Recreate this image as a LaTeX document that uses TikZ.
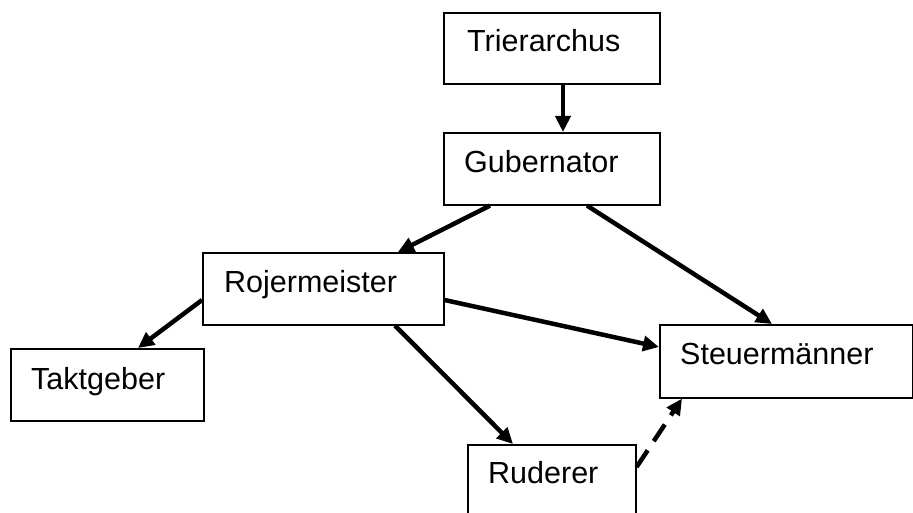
\documentclass[tikz,border=0pt]{standalone}
\usepackage{fontspec}
\setmainfont{Liberation Sans}
\usetikzlibrary{arrows.meta,calc}
\begin{document}
\begin{tikzpicture}[x=1pt,y=-1pt,
  box/.style={draw=black, line width=1.6pt, fill=white, rectangle, inner sep=0pt, anchor=north west},
  lbl/.style={anchor=base west, inner sep=0pt, font=\fontsize{30.5}{36}\selectfont},
  conn/.style={line width=4.5pt, -{Triangle[length=16pt,width=15pt]}},
  weak/.style={conn, dash pattern=on 20pt off 11pt}]
  \useasboundingbox (0,0) rectangle (913,513);

  % boxes
  \node[box, minimum width=216pt, minimum height=71pt] (tri)  at (443,12)  {};
  \node[box, minimum width=216pt, minimum height=72pt] (gub)  at (443,132) {};
  \node[box, minimum width=241pt, minimum height=72pt] (roj)  at (202,252) {};
  \node[box, minimum width=193pt, minimum height=72pt] (takt) at (10,348)  {};
  \node[box, minimum width=253pt, minimum height=73pt] (steu) at (659,324) {};
  \node[box, minimum width=168pt, minimum height=75pt] (rud)  at (467,444) {};

  % labels
  \node[lbl] (tri-t)  at ($(tri.north west)+(24,40)$)  {Trierarchus};
  \node[lbl] (gub-t)  at ($(gub.north west)+(21,41)$)  {Gubernator};
  \node[lbl] (roj-t)  at ($(roj.north west)+(22,40)$)  {Rojermeister};
  \node[lbl] (takt-t) at ($(takt.north west)+(21,41)$) {Taktgeber};
  \node[lbl] (steu-t) at ($(steu.north west)+(21,40)$) {Steuermänner};
  \node[lbl] (rud-t)  at ($(rud.north west)+(21,39)$)  {Ruderer};

  % connectors
  \draw[conn] ($(tri.south west)+(120,0)$) -- ($(gub.north west)+(120,0)$);
  \draw[conn] ($(gub.south west)+(47,0)$)  -- ($(roj.north west)+(196,0)$);
  \draw[conn] ($(gub.south west)+(144,0)$) -- ($(steu.north west)+(113,0)$);
  \draw[conn] ($(roj.north east)+(0,48)$)  -- ($(steu.north west)+(0,23)$);
  \draw[conn] ($(roj.north west)+(0,48)$)  -- ($(takt.north west)+(128,0)$);
  \draw[conn] ($(roj.south west)+(193,0)$) -- ($(rud.north west)+(46,0)$);
  \draw[weak] ($(rud.north east)+(0,23)$)  -- ($(steu.south west)+(23,0)$);
\end{tikzpicture}
\end{document}
